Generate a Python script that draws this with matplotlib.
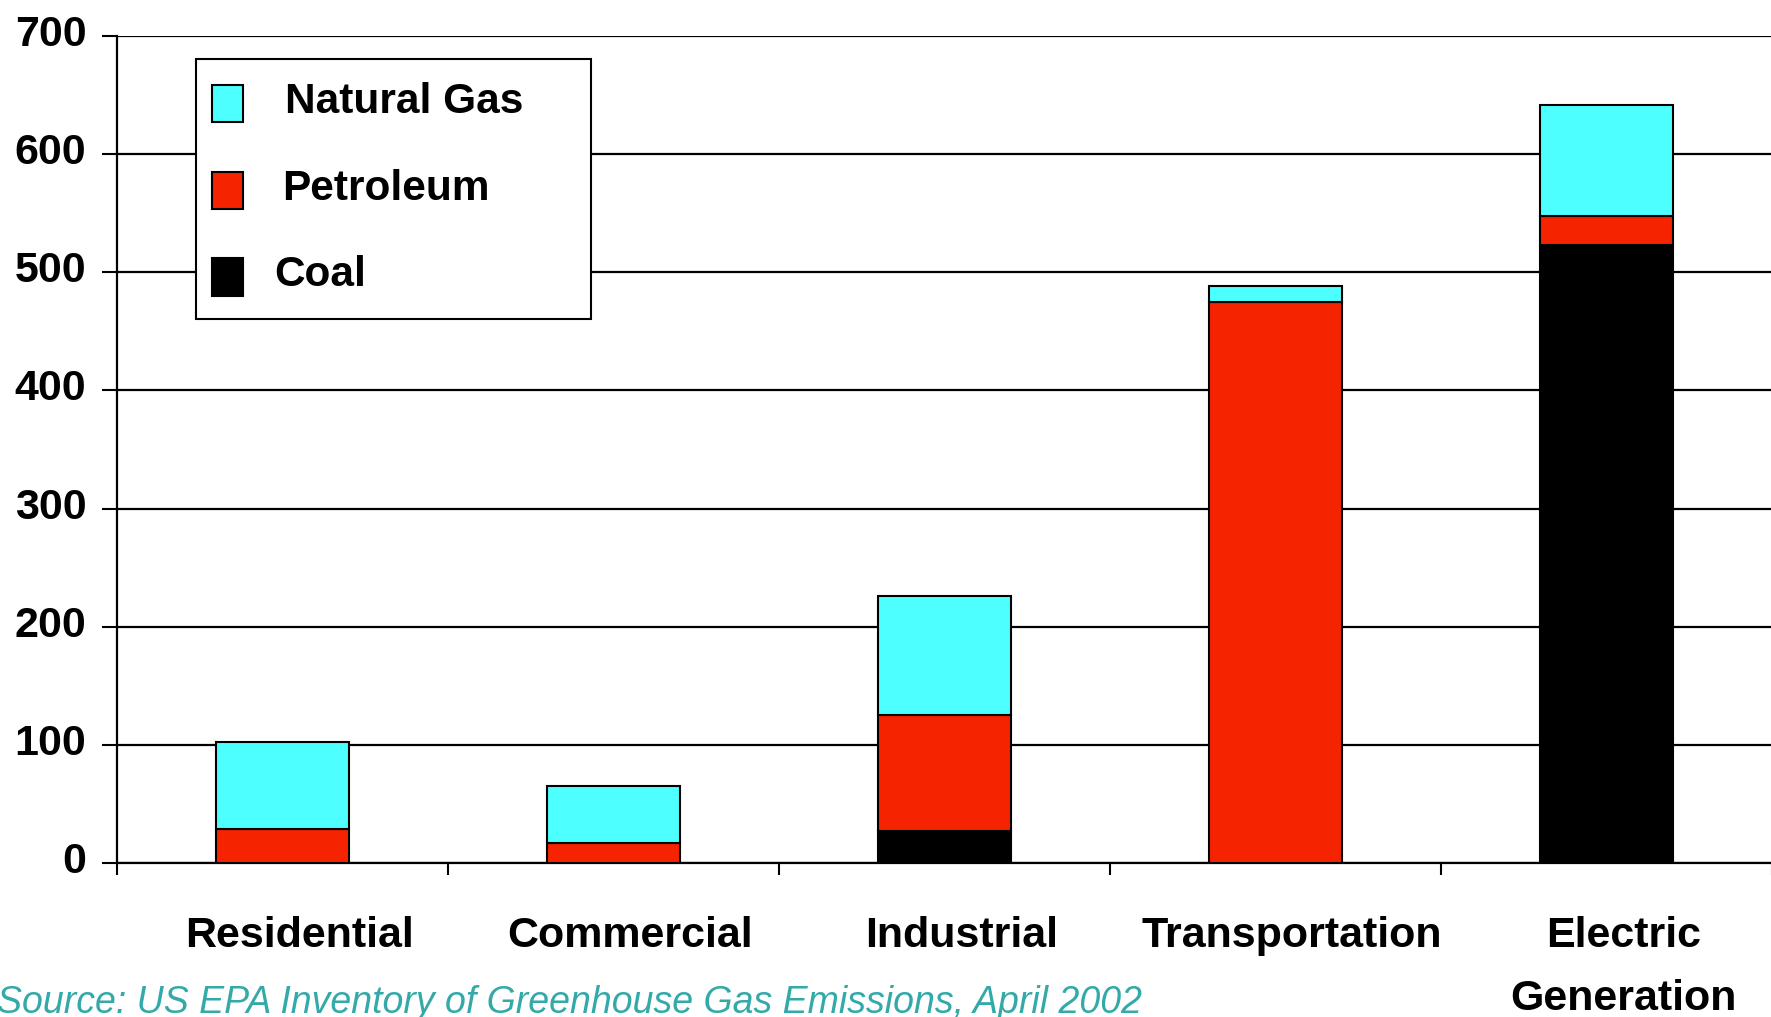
import matplotlib
matplotlib.use("Agg")
import matplotlib.pyplot as plt
import matplotlib.transforms as mtransforms
from matplotlib.patches import Rectangle
import numpy as np

# CO2 emissions by end-use sector and fuel
categories = ["Residential", "Commercial", "Industrial", "Transportation", "Electric\nGeneration"]
coal = [0, 0, 27, 0, 523]
petroleum = [29, 17, 98, 475, 25]
natural_gas = [73, 48, 101, 13, 94]

series_names = ["Natural Gas", "Petroleum", "Coal"]
series_colors = ["#4dffff", "#f52300", "#000000"]

y_ticks = [0, 100, 200, 300, 400, 500, 600, 700]
source_note = "Source: US EPA Inventory of Greenhouse Gas Emissions, April 2002"

plt.rcParams["font.family"] = ["Liberation Sans", "DejaVu Sans"]

W, H, DPI = 1771, 1017, 100
fig = plt.figure(figsize=(W / DPI, H / DPI), dpi=DPI)
ax = fig.add_axes([117 / W, 154 / H, 1655 / W, 827 / H])

x = np.arange(len(categories)) + 0.5
coal_arr = np.array(coal)
pet_arr = np.array(petroleum)
gas_arr = np.array(natural_gas)

bar_kw = dict(width=0.4, edgecolor="black", linewidth=1.5, zorder=3)
ax.bar(x, coal_arr, color=series_colors[2], **bar_kw)
ax.bar(x, pet_arr, bottom=coal_arr, color=series_colors[1], **bar_kw)
ax.bar(x, gas_arr, bottom=coal_arr + pet_arr, color=series_colors[0], **bar_kw)

ax.set_xlim(0, len(categories))
ax.set_ylim(0, 700)

# horizontal grid
ax.set_yticks(y_ticks)
ax.yaxis.grid(True, color="black", linewidth=1.6)
ax.set_axisbelow(True)

for side in ("right", "top"):
    ax.spines[side].set_visible(False)
for side in ("left", "bottom"):
    ax.spines[side].set_linewidth(1.6)

ax.tick_params(axis="y", direction="out", length=11, width=1.5, pad=11,
               labelsize=31)
for lab in ax.get_yticklabels():
    lab.set_fontweight("bold")
    lab.set_transform(lab.get_transform() +
                      mtransforms.ScaledTranslation(0, 4 / 72, fig.dpi_scale_trans))

# category separators as major ticks, names as minor tick labels
ax.set_xticks(np.arange(len(categories) + 1))
ax.set_xticklabels([])
ax.set_xticks(x, minor=True)
ax.set_xticklabels(categories, minor=True, fontsize=31, fontweight="bold",
                   linespacing=1.75)
ax.tick_params(axis="x", which="major", direction="out", length=8.5, width=1.5)
ax.tick_params(axis="x", which="minor", length=0, pad=38)
for lab in ax.get_xticklabels(minor=True):
    lab.set_transform(lab.get_transform() +
                      mtransforms.ScaledTranslation(12 / 72, 0, fig.dpi_scale_trans))

# legend box
ax.add_patch(Rectangle((0.048, 0.658), 0.2384, 0.3146, transform=ax.transAxes,
                       facecolor="white", edgecolor="black", linewidth=1.5,
                       zorder=5, clip_on=False))
sw, sh = 30.5 / 1655, 37.5 / 827
row_y = [0.9185, 0.8133, 0.7088]
text_x = [0.1014, 0.0995, 0.0952]
for name, color, yc, tx in zip(series_names, series_colors, row_y, text_x):
    ax.add_patch(Rectangle((0.0576, yc - sh / 2), sw, sh, transform=ax.transAxes,
                           facecolor=color, edgecolor="black", linewidth=1.5,
                           zorder=6))
    ax.text(tx, yc + 0.002, name, transform=ax.transAxes, fontsize=30.5,
            fontweight="bold", va="center", ha="left", zorder=7)

fig.text(-3 / W, 4 / H, source_note, fontsize=27, style="italic",
         color="#33a9a9", ha="left", va="baseline")

fig.savefig("out.png", dpi=DPI)
